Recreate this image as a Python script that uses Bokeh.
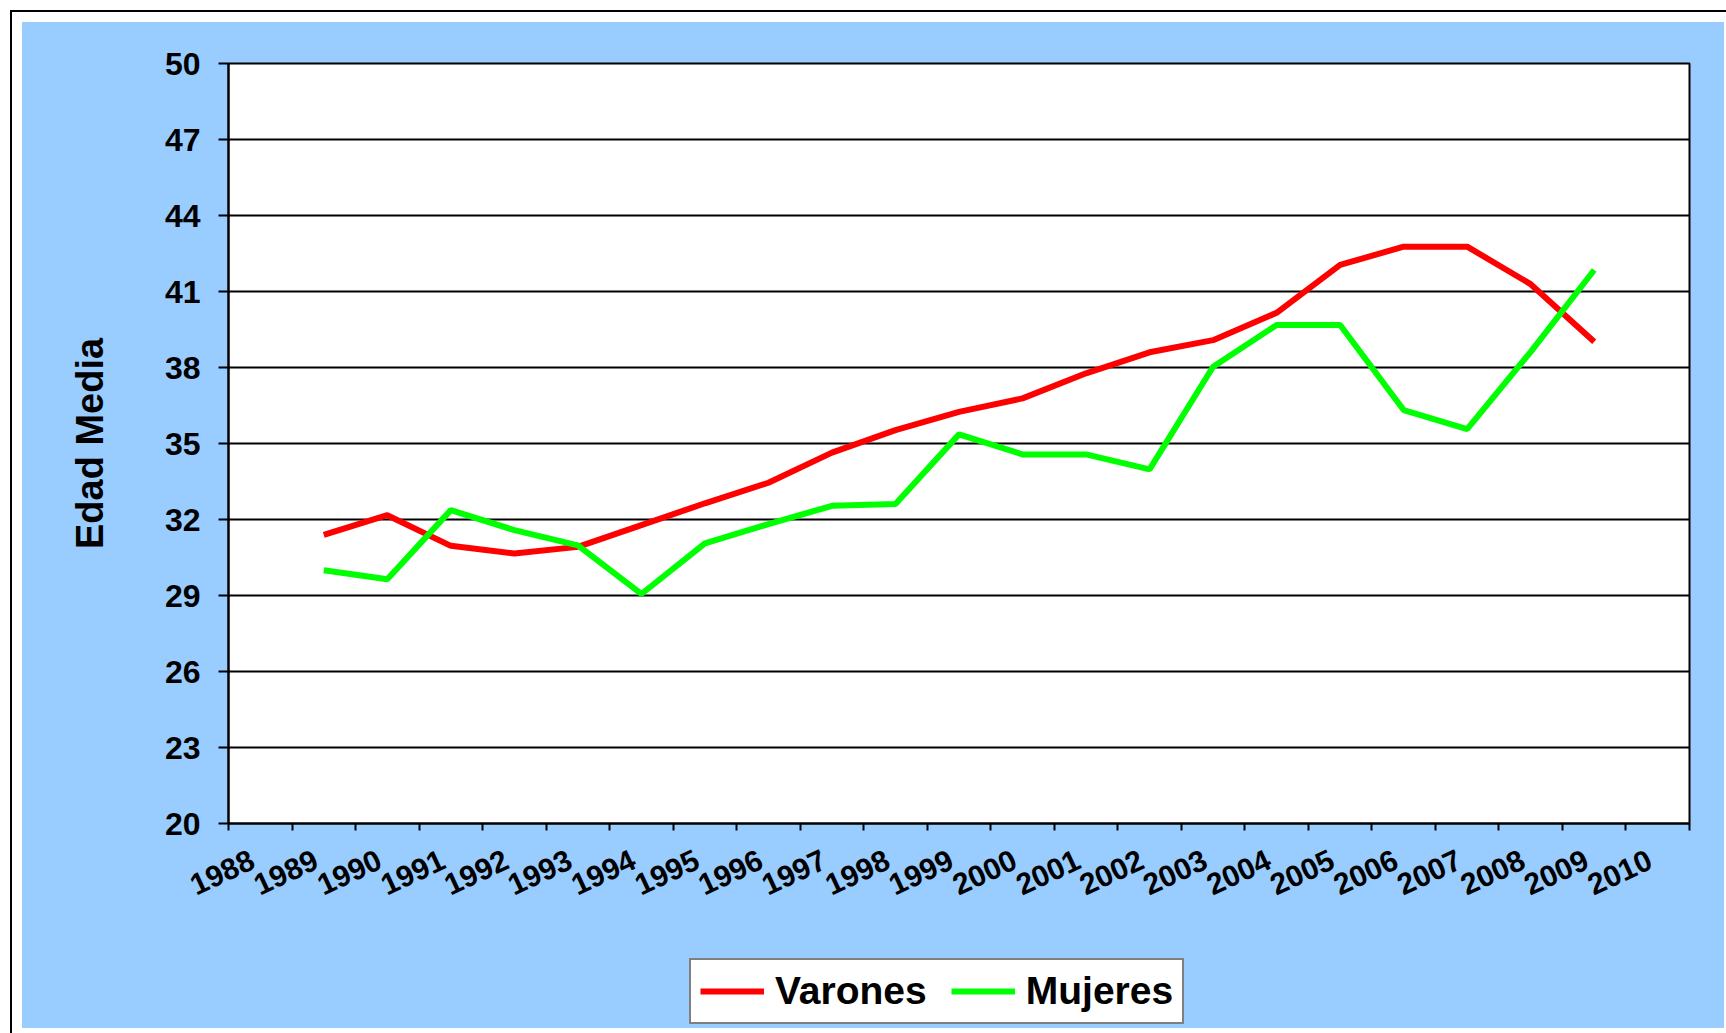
import math
from bokeh.plotting import figure
from bokeh.layouts import column
from bokeh.models import ColumnDataSource, Range1d, FixedTicker, Legend, LegendItem
from bokeh.embed import file_html
from bokeh.resources import INLINE

# ---- data ----
categories = ["1988", "1989", "1990", "1991", "1992", "1993", "1994", "1995",
              "1996", "1997", "1998", "1999", "2000", "2001", "2002", "2003",
              "2004", "2005", "2006", "2007", "2008", "2009", "2010"]
data_years = ["1989", "1990", "1991", "1992", "1993", "1994", "1995", "1996",
              "1997", "1998", "1999", "2000", "2001", "2002", "2003", "2004",
              "2005", "2006", "2007", "2008", "2009"]
varones = [31.39, 32.17, 30.96, 30.66, 30.92, 31.78, 32.64, 33.45, 34.64, 35.53,
           36.25, 36.78, 37.77, 38.60, 39.08, 40.16, 42.05, 42.77, 42.77, 41.29, 39.02]
mujeres = [30.00, 29.64, 32.37, 31.58, 30.98, 29.06, 31.06, 31.82, 32.54, 32.61,
           35.36, 34.57, 34.57, 33.98, 38.03, 39.68, 39.68, 36.32, 35.57, 38.62, 41.85]
y_ticks = [20, 23, 26, 29, 32, 35, 38, 41, 44, 47, 50]
y_title = "Edad Media"
series_names = ["Varones", "Mujeres"]
series_colors = ["#FF0000", "#00FF00"]

# category centres on a numeric axis (tick marks between categories, like Excel)
xpos = [categories.index(y) + 0.5 for y in data_years]
src = ColumnDataSource(dict(x=xpos, varones=varones, mujeres=mujeres))

FONT = "Liberation Sans"
BLUE = "#99CCFF"
W = 1702

p = figure(width=W, height=921, output_backend="svg", toolbar_location=None,
           x_range=Range1d(0, len(categories)), y_range=Range1d(20, 50),
           min_border_left=206, min_border_right=35, min_border_top=41,
           min_border_bottom=120)
p.border_fill_color = BLUE
p.background_fill_color = "white"
p.outline_line_color = "black"
p.outline_line_width = 2

# x axis: labels at category centres (shifted a little, like Excel's rotated labels),
# tick marks at category boundaries
LABEL_SHIFT = 0.12
xa = p.xaxis[0]
xa.ticker = FixedTicker(ticks=[i + 0.5 - LABEL_SHIFT for i in range(len(categories))],
                        minor_ticks=list(range(len(categories) + 1)))
xa.major_label_overrides = {i + 0.5 - LABEL_SHIFT: c for i, c in enumerate(categories)}
xa.major_tick_out = 0
xa.major_tick_in = 0
xa.minor_tick_out = 7
xa.minor_tick_in = 0
xa.minor_tick_line_color = "black"
xa.minor_tick_line_width = 2
xa.axis_line_color = "black"
xa.axis_line_width = 2
xa.major_label_orientation = math.radians(25)
xa.major_label_text_font = FONT
xa.major_label_text_font_style = "bold"
xa.major_label_text_font_size = "30px"
xa.major_label_text_color = "black"
xa.major_label_standoff = 28

# y axis
ya = p.yaxis[0]
ya.ticker = FixedTicker(ticks=y_ticks)
ya.major_tick_out = 10
ya.major_tick_in = 0
ya.minor_tick_out = 0
ya.minor_tick_in = 0
ya.major_tick_line_color = "black"
ya.major_tick_line_width = 2
ya.axis_line_color = "black"
ya.axis_line_width = 2
ya.major_label_text_font = FONT
ya.major_label_text_font_style = "bold"
ya.major_label_text_font_size = "32px"
ya.major_label_text_color = "black"
ya.major_label_standoff = 18
ya.axis_label = y_title
ya.axis_label_text_font = FONT
ya.axis_label_text_font_style = "bold"
ya.axis_label_text_font_size = "38px"
ya.axis_label_text_color = "black"
ya.axis_label_standoff = 51

p.xgrid.visible = False
p.ygrid.ticker = FixedTicker(ticks=y_ticks)
p.ygrid.grid_line_color = "black"
p.ygrid.grid_line_width = 2

p.line("x", "varones", source=src, line_color=series_colors[0], line_width=6)
p.line("x", "mujeres", source=src, line_color=series_colors[1], line_width=6)

# legend strip below the chart (transparent, column background is blue)
p2 = figure(width=W, height=85, output_backend="svg", toolbar_location=None,
            x_range=Range1d(0, 1), y_range=Range1d(0, 1),
            x_axis_location=None, y_axis_location=None, min_border=0)
p2.border_fill_color = None
p2.background_fill_color = None
p2.outline_line_color = None
p2.grid.visible = False
# off-range sample lines: they only provide the legend glyphs
proxy = ColumnDataSource(dict(x=[-2, -1], y=[-2, -2]))
l1 = p2.line("x", "y", source=proxy, line_color=series_colors[0], line_width=6)
l2 = p2.line("x", "y", source=proxy, line_color=series_colors[1], line_width=6)

legend = Legend(items=[LegendItem(label=series_names[0], renderers=[l1]),
                       LegendItem(label=series_names[1], renderers=[l2])],
                orientation="horizontal", location=(461, 4), margin=0,
                padding=9, spacing=24, label_standoff=11,
                glyph_width=64, glyph_height=30,
                label_text_font=FONT, label_text_font_style="bold",
                label_text_font_size="39px", label_text_color="black",
                border_line_color="black", border_line_width=2,
                background_fill_color="white", background_fill_alpha=1.0)
p2.add_layout(legend, "center")

layout = column(p, p2, spacing=0, margin=(22, 0, 0, 22),
                styles={"outline": "2px solid black", "outline-offset": "10px",
                        "background-color": BLUE})

open("out.html", "w").write(file_html(layout, INLINE))
